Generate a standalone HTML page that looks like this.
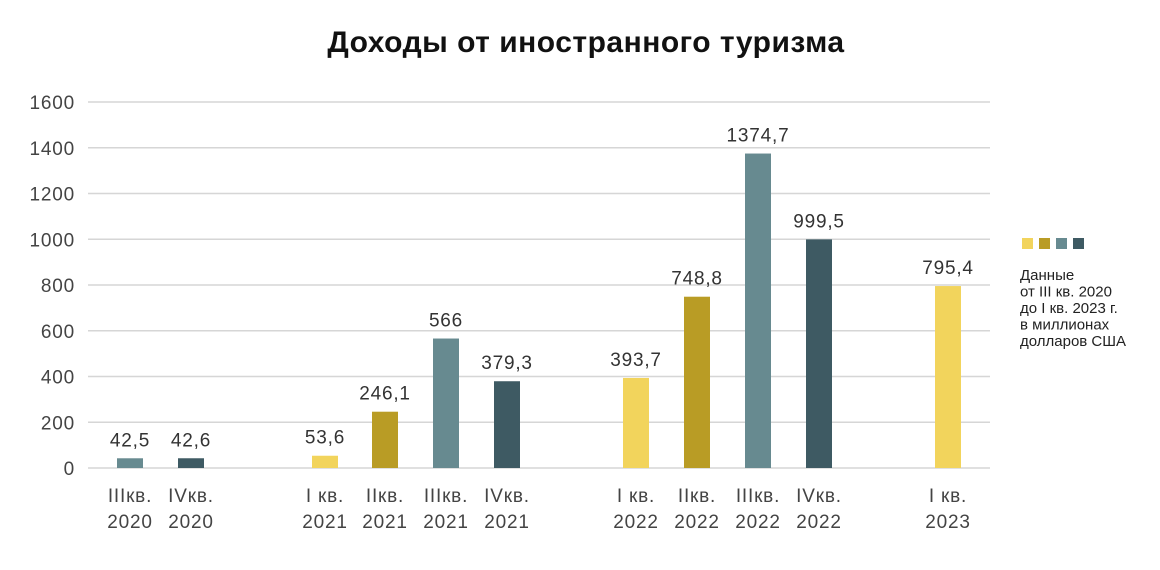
<!DOCTYPE html>
<html><head><meta charset="utf-8"><style>
body{margin:0;background:#fff;}
svg{display:block;font-family:"Liberation Sans",sans-serif;}
</style></head><body>
<svg id="c" width="1160" height="570">
<text x="586" y="52" text-anchor="middle" font-size="30" font-weight="800" letter-spacing="0.5" fill="#111">Доходы от иностранного туризма</text>
<g id="grid"></g>
<g id="bars"></g>
<g>
<rect x="1022" y="238" width="11" height="11" fill="#f2d45c"/>
<rect x="1039" y="238" width="11" height="11" fill="#b99c25"/>
<rect x="1056" y="238" width="11" height="11" fill="#678a90"/>
<rect x="1073" y="238" width="11" height="11" fill="#3e5a63"/>
<text font-size="15" fill="#222">
<tspan x="1020" y="280">Данные</tspan>
<tspan x="1020" y="296.5">от III кв. 2020</tspan>
<tspan x="1020" y="313">до I кв. 2023 г.</tspan>
<tspan x="1020" y="329.5">в миллионах</tspan>
<tspan x="1020" y="346">долларов США</tspan>
</text>
</g>
</svg>
<script>
const categories=["III кв. 2020","IV кв. 2020","I кв. 2021","II кв. 2021","III кв. 2021","IV кв. 2021","I кв. 2022","II кв. 2022","III кв. 2022","IV кв. 2022","I кв. 2023"];
const quarterLabels=["IIIкв.","IVкв.","I кв.","IIкв.","IIIкв.","IVкв.","I кв.","IIкв.","IIIкв.","IVкв.","I кв."];
const yearLabels=["2020","2020","2021","2021","2021","2021","2022","2022","2022","2022","2023"];
const values=[42.5,42.6,53.6,246.1,566,379.3,393.7,748.8,1374.7,999.5,795.4];
const valueLabels=["42,5","42,6","53,6","246,1","566","379,3","393,7","748,8","1374,7","999,5","795,4"];
const yTicks=[0,200,400,600,800,1000,1200,1400,1600];
const centers=[130,191,325,385,446,507,636,697,758,819,948];
const colorsBy=["#678a90","#3e5a63","#f2d45c","#b99c25","#678a90","#3e5a63","#f2d45c","#b99c25","#678a90","#3e5a63","#f2d45c"];
const NS="http://www.w3.org/2000/svg";
const y=v=>468-v*(366/1600);
const grid=document.getElementById('grid'),bars=document.getElementById('bars');
function mk(tag,attrs,parent,txt){const e=document.createElementNS(NS,tag);for(const k in attrs)e.setAttribute(k,attrs[k]);if(txt!=null)e.textContent=txt;parent.appendChild(e);return e;}
yTicks.forEach(t=>{
 const l=mk('line',{x1:88,x2:990,y1:y(t),y2:y(t),stroke:'#d6d6d6','stroke-width':1.5},grid);
 
 
 const tx=mk('text',{x:75,y:y(t)+7,'text-anchor':'end','font-size':19,'letter-spacing':0.8,fill:'#444'},grid,String(t));
 
 
});
values.forEach((v,i)=>{
 const cx=centers[i];
 const r=mk('rect',{x:cx-13,y:y(v),width:26,height:468-y(v),fill:colorsBy[i]},bars);
 
 
 const vl=mk('text',{x:cx,y:y(v)-12,'text-anchor':'middle','font-size':19,'letter-spacing':0.8,fill:'#333'},bars,valueLabels[i]);
 
 
 const q=mk('text',{x:cx,y:502,'text-anchor':'middle','font-size':19,'letter-spacing':0.8,fill:'#444'},bars,quarterLabels[i]);
 
 
 const yr=mk('text',{x:cx,y:528,'text-anchor':'middle','font-size':19,'letter-spacing':0.8,fill:'#444'},bars,yearLabels[i]);
 
 
});
</script>
</body></html>
